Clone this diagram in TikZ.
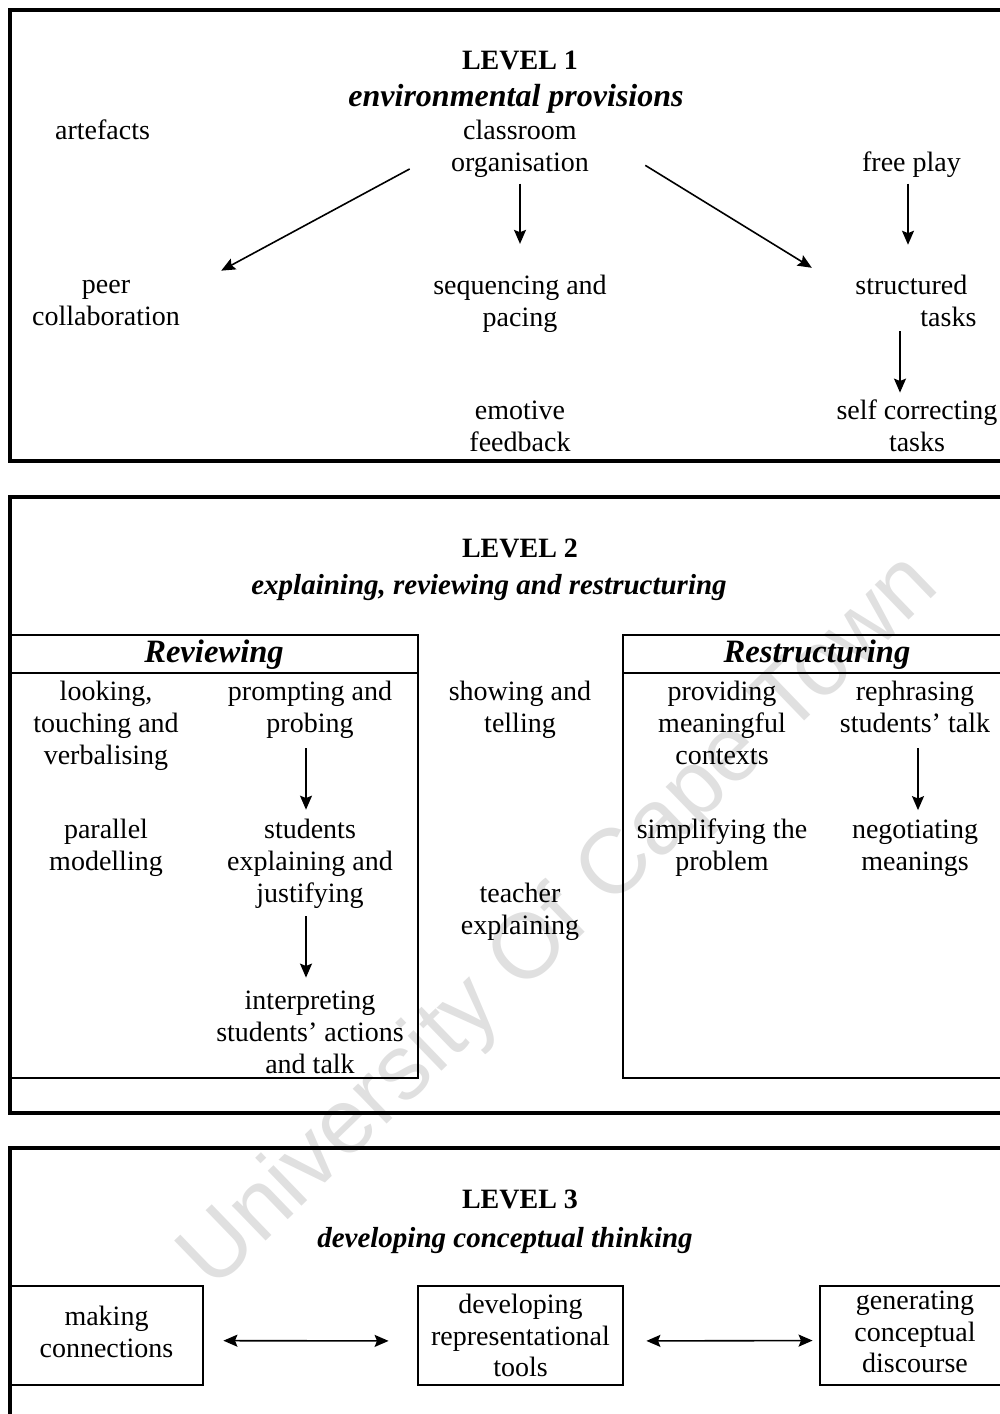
\documentclass[tikz,border=0pt]{standalone}
\usepackage{fontspec}
\setmainfont{Liberation Serif}
\setsansfont{Liberation Sans}
\usetikzlibrary{arrows.meta}

\begin{document}
\begin{tikzpicture}[
      x=0.5pt,
      y=-0.5pt,
      >={Stealth[length=7pt,width=6pt,inset=1.2pt]},
      entry/.style={rectangle,
                    inner sep=2pt,
                    align=center,
                    font=\fontsize{14}{16}\selectfont},
      heading/.style={rectangle,
                      inner sep=2pt,
                      font=\fontsize{14}{16}\selectfont\bfseries},
      theme/.style={rectangle,
                    inner sep=2pt,
                    font=\fontsize{14.5}{16}\selectfont\bfseries\itshape},
      panelname/.style={rectangle,
                        inner sep=2pt,
                        font=\fontsize{16.3}{18}\selectfont\bfseries\itshape},
      boxed/.style={rectangle,
                    draw,
                    line width=1.4pt,
                    inner sep=2pt,
                    minimum height=49.5pt,
                    align=center,
                    font=\fontsize{14}{15.75}\selectfont},
      level/.style={line width=1.8pt},
      panel/.style={line width=1.3pt},
      link/.style={line width=0.8pt,->},
      twoway/.style={line width=0.8pt,<->},
      stamp/.style={text=black!12,
                    rotate=44,
                    font=\sffamily\fontsize{46}{50}\selectfont}
    ]

    \clip (0,0) rectangle (1000,1414);

    \draw (561,923)
          node[stamp]
          (watermark)
          { University Of Cape Town };

    \draw [level] (10,10) rectangle (1020,461);
    \draw [level] (10,497) rectangle (1020,1113);
    \draw [level] (10,1148) rectangle (1020,1500);

    \draw (520,60)
          node[heading]
          (levelone)
          { LEVEL 1 };
    \draw (516,99)
          node[theme, font=\fontsize{16}{18}\selectfont\bfseries\itshape]
          (provisions)
          { environmental provisions };
    \draw (106,130)
          node[entry]
          (artefacts)
          { artefacts };
    \draw (520,149)
          node[entry]
          (classroom)
          { classroom\\organisation };
    \draw (915,165)
          node[entry]
          (freeplay)
          { free play };
    \draw (106,303)
          node[entry]
          (peer)
          { peer\\collaboration };
    \draw (520,304)
          node[entry]
          (sequencing)
          { sequencing and\\pacing };
    \draw (851,301)
          node[entry, anchor=west, align=left]
          (structured)
          { structured\\\hspace*{32.5pt}tasks };
    \draw (520,426)
          node[entry]
          (emotive)
          { emotive\\feedback };
    \draw (917,426)
          node[entry]
          (selfcorrecting)
          { self correcting\\tasks };

    \draw [link, shorten <=21pt, shorten >=21pt] (classroom.west) to (peer.9);
    \draw [link, shorten <=0.7pt, shorten >=13.5pt] (classroom.south) to (sequencing.north);
    \draw [link, shorten <=30.5pt, shorten >=23pt] (classroom.12) to (structured.172);
    \draw [link, shorten <=0.7pt, shorten >=13pt] ([xshift=-3.5pt]freeplay.south)
                     to ([xshift=-3.5pt]freeplay.south |- structured.north);
    \draw [link, shorten >=1.5pt] ([xshift=-8.5pt]selfcorrecting.north |- structured.south)
                     to ([xshift=-8.5pt]selfcorrecting.north);

    \draw (520,548)
          node[heading]
          (leveltwo)
          { LEVEL 2 };
    \draw (489,588)
          node[theme]
          (explaining)
          { explaining, reviewing and restructuring };

    \draw [panel] (10,635) rectangle (418,1078);
    \draw [panel] (10,673) -- (418,673);
    \draw [panel] (623,635) rectangle (1020,1078);
    \draw [panel] (623,673) -- (1020,673);

    \draw (214,655)
          node[panelname]
          (reviewing)
          { Reviewing };
    \draw (817,655)
          node[panelname]
          (restructuring)
          { Restructuring };

    \draw (106,726)
          node[entry]
          (looking)
          { looking,\\touching and\\verbalising };
    \draw (310,710)
          node[entry]
          (prompting)
          { prompting and\\probing };
    \draw (106,848)
          node[entry]
          (parallel)
          { parallel\\modelling };
    \draw (310,864)
          node[entry]
          (justifying)
          { students\\explaining and\\justifying };
    \draw (310,1032)
          node[entry]
          (interpreting)
          { interpreting\\students' actions\\and talk };
    \draw (520,710)
          node[entry]
          (showing)
          { showing and\\telling };
    \draw (520,912)
          node[entry]
          (teacher)
          { teacher\\explaining };
    \draw (722,723)
          node[entry]
          (providing)
          { providing\\meaningful\\contexts };
    \draw (915,707)
          node[entry]
          (rephrasing)
          { rephrasing\\students' talk };
    \draw (722,848)
          node[entry]
          (simplifying)
          { simplifying the\\problem };
    \draw (915,848)
          node[entry]
          (negotiating)
          { negotiating\\meanings };

    \draw [link, shorten <=2.6pt, shorten >=2.6pt] ([xshift=-2pt]prompting.south)
                     to ([xshift=-2pt]prompting.south |- justifying.north);
    \draw [link, shorten <=1.6pt, shorten >=4.3pt] ([xshift=-2pt]justifying.south)
                     to ([xshift=-2pt]justifying.south |- interpreting.north);
    \draw [link, shorten <=5.6pt, shorten >=2.6pt] ([xshift=1.5pt]rephrasing.south)
                     to ([xshift=1.5pt]rephrasing.south |- negotiating.north);

    \draw (520,1199)
          node[heading]
          (levelthree)
          { LEVEL 3 };
    \draw (505,1241)
          node[theme]
          (conceptual)
          { developing conceptual thinking };

    \draw (106.5,1335.5)
          node[boxed, minimum width=96.5pt, text depth=3.5pt]
          (connections)
          { making\\connections };
    \draw (520.5,1335.5)
          node[boxed, minimum width=102.5pt]
          (tools)
          { developing\\representational\\tools };
    \draw (915,1335.5)
          node[boxed, minimum width=95pt, text depth=3.5pt]
          (discourse)
          { generating\\conceptual\\discourse };

    \draw [twoway, shorten <=9.5pt, shorten >=14pt] (connections.-3) to (tools.183);
    \draw [twoway, shorten <=11pt, shorten >=3pt] (tools.-3) to (discourse.183);

\end{tikzpicture}
\end{document}
